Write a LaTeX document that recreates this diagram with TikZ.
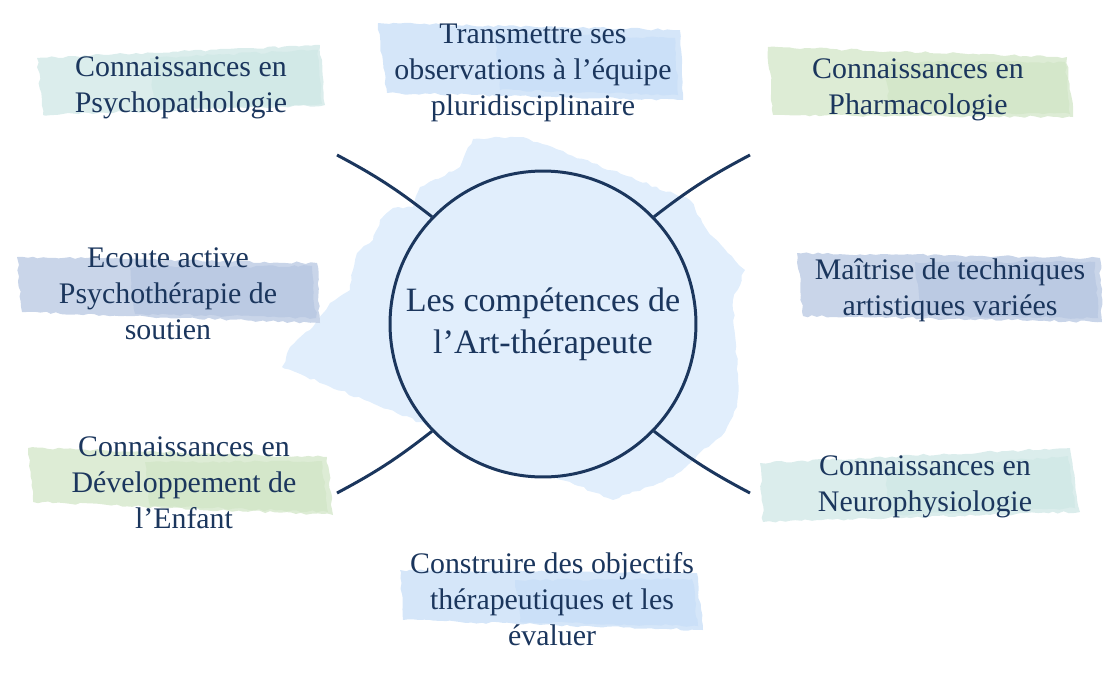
\documentclass[tikz,border=0pt]{standalone}
\usepackage{fontspec}
\setmainfont{Liberation Serif}
\usetikzlibrary{decorations.pathmorphing}
\definecolor{navy}{RGB}{27,54,93}
\definecolor{blobblue}{RGB}{225,238,252}
\definecolor{tealbox}{RGB}{210,233,231}
\definecolor{bluebox}{RGB}{203,224,248}
\definecolor{greenbox}{RGB}{212,231,202}
\definecolor{greybox}{RGB}{187,202,227}
\tikzset{
  skill/.style={text=navy, align=center, font=\fontsize{17}{20.5}\selectfont},
  brush/.style={decorate, decoration={random steps, segment length=3pt, amplitude=0.7pt}},
  spoke/.style={navy, line width=1.7pt},
  hub/.style={circle, draw=navy, line width=1.7pt, fill=blobblue, minimum size=6.12cm, inner sep=0pt,
    text=navy, align=center, font=\fontsize{19.4}{23.9}\selectfont},
}
\begin{document}
\begin{tikzpicture}[x=0.02cm, y=-0.02cm]
\useasboundingbox (0,0) rectangle (1120,674);
\pgfmathsetseed{7}
% background splash
\fill[blobblue, brush] (473,139) -- (523,137) -- (690,200) -- (707,230) -- (745,270) -- (733,300)
  -- (738,380) -- (737,407) -- (725,432) -- (673,477) -- (613,500) -- (282,367) -- (290,347)
  -- (310,330) -- (330,303) -- (350,290) -- (353,270) -- (357,253) -- (373,240) -- (380,220)
  -- (393,208) -- (413,207) -- (420,187) -- (460,167) -- cycle;
% brush strokes behind the skills
\fill[tealbox!80, brush] (37,58) -- (320,45) -- (325,105) -- (43,115) -- cycle;
\fill[tealbox, brush] (150,58) -- (318,50) -- (322,104) -- (155,110) -- cycle;
\fill[bluebox!80, brush] (378,23) -- (680,30) -- (683,100) -- (387,93) -- cycle;
\fill[bluebox, brush] (495,33) -- (675,38) -- (678,95) -- (500,90) -- cycle;
\fill[greenbox!80, brush] (768,47) -- (1067,57) -- (1073,117) -- (773,115) -- cycle;
\fill[greenbox, brush] (885,62) -- (1065,62) -- (1070,114) -- (890,112) -- cycle;
\fill[greybox!80, brush] (17,257) -- (317,263) -- (320,323) -- (22,312) -- cycle;
\fill[greybox, brush] (130,268) -- (312,266) -- (316,318) -- (135,314) -- cycle;
\fill[greybox!80, brush] (797,253) -- (1100,258) -- (1102,322) -- (803,316) -- cycle;
\fill[greybox, brush] (915,262) -- (1095,262) -- (1098,318) -- (920,316) -- cycle;
\fill[greenbox!80, brush] (28,448) -- (327,457) -- (333,515) -- (33,502) -- cycle;
\fill[greenbox, brush] (145,462) -- (322,461) -- (328,512) -- (150,506) -- cycle;
\fill[tealbox!80, brush] (760,463) -- (1070,448) -- (1080,512) -- (763,522) -- cycle;
\fill[tealbox, brush] (885,470) -- (1068,456) -- (1075,508) -- (890,515) -- cycle;
\fill[bluebox!80, brush] (400,570) -- (697,573) -- (703,630) -- (403,620) -- cycle;
\fill[bluebox, brush] (515,580) -- (692,579) -- (698,626) -- (520,622) -- cycle;
% centre
\node[hub] (hub) at (543,324) {Les compétences de\\l’Art-thérapeute};
\coordinate (ul) at (337,155);
\coordinate (ur) at (750,155);
\coordinate (ll) at (337,493);
\coordinate (lr) at (750,493);
\draw[spoke] (ul) to[bend left=5] (hub.136);
\draw[spoke] (ur) to[bend right=5] (hub.44);
\draw[spoke] (ll) to[bend right=5] (hub.224);
\draw[spoke] (lr) to[bend left=5] (hub.316);
% skills
\node[skill] (psycho) at (181,88) {Connaissances en\\Psychopathologie};
\node[skill] (transm) at (533,73) {Transmettre ses\\observations à l’équipe\\pluridisciplinaire};
\node[skill] (pharma) at (918,90) {Connaissances en\\Pharmacologie};
\node[skill] (ecoute) at (168,294) {Ecoute active\\Psychothérapie de\\soutien};
\node[skill] (maitrise) at (950,290) {Maîtrise de techniques\\artistiques variées};
\node[skill] (develop) at (184,483) {Connaissances en\\Développement de\\l’Enfant};
\node[skill] (neuro) at (925,487) {Connaissances en\\Neurophysiologie};
\node[skill] (constr) at (552,599) {Construire des objectifs\\thérapeutiques et les\\évaluer};
\end{tikzpicture}
\end{document}
